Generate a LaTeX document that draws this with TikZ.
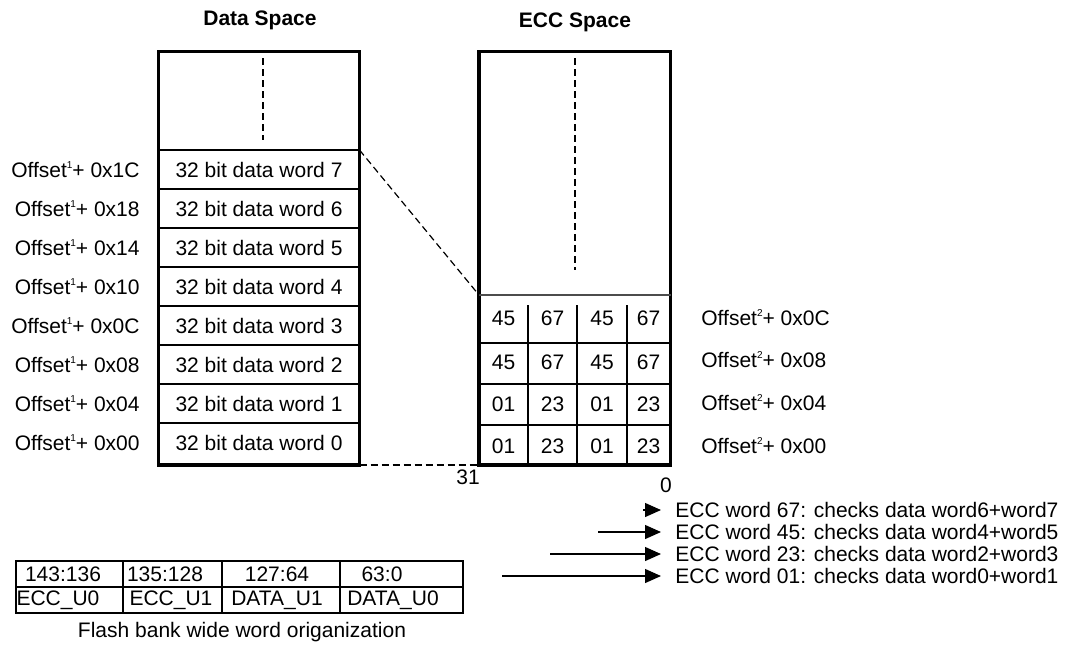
\documentclass[tikz,border=0pt]{standalone}
\usepackage{fontspec}
\setmainfont{Liberation Sans}
\usetikzlibrary{arrows.meta}

\newcommand{\diagfont}{\fontsize{10.5}{12.6}\selectfont}
\newcommand{\supmark}[1]{\raisebox{0.8ex}{\fontsize{5}{5}\selectfont #1}}

\begin{document}
\begin{tikzpicture}[x=0.5pt, y=-0.5pt, font=\diagfont,
    >={Triangle[length=8pt,width=7pt]},
    frame/.style={draw, line width=1.9pt},
    sepline/.style={draw, line width=0.6pt},
    guide/.style={draw, line width=0.6pt, dash pattern=on 3.5pt off 2pt},
    title/.style={font=\diagfont\bfseries, inner sep=0pt},
    txt/.style={inner sep=0pt}]

    \useasboundingbox (0,0) rectangle (1066,644);

    % Space titles
    \node[title] (dsTitle) at (260,20) {Data Space};
    \node[title] (eccTitle) at (575,22) {ECC Space};

    % Data space frame, rows and offset label(s)
    \draw[frame] (158.5,51.5) coordinate (dsNW) rectangle (359.5,465) coordinate (dsSE);
    \draw[guide] (263,58) -- (263,140);
    \foreach \k in {0,...,7}
        \draw[sepline] (158.5,{150+39*\k}) -- (359.5,{150+39*\k});
    \coordinate (dsRow7) at (359.5,150);
    \foreach \n/\hex [count=\k from 0] in {7/1C,6/18,5/14,4/10,3/0C,2/08,1/04,0/00} {
        \node[txt] (dw\n) at (259,{170+39*\k}) {32 bit data word \n};
        \node[txt, anchor=east] (do\n) at (140,{170+39*\k}) {Offset\supmark{1}+ 0x\hex};
    }

    % ECC space frame and grid
    \draw[frame] (479,51.5) coordinate (eccNW) rectangle (670.5,465) coordinate (eccSE);
    \draw[guide] (575,58) -- (575,270);
    \coordinate (eccGridNW) at (479,295);
    \coordinate (eccSW) at (479,465);
    \draw[line width=0.6pt, black!70] (eccGridNW) -- (670.5,295);
    \foreach \y in {343,384,425}
        \draw[line width=1pt] (479,\y) -- (670.5,\y);
    \foreach \x in {528,577,627}
        \draw[line width=1pt] (\x,305) -- (\x,465);
    \foreach \r/\y/\a/\b in {3/318/45/67, 2/362/45/67, 1/404/01/23, 0/446/01/23} {
        \node[txt] (ec\r a) at (503.5,\y) {\a};
        \node[txt] (ec\r b) at (552.5,\y) {\b};
        \node[txt] (ec\r c) at (602,\y) {\a};
        \node[txt] (ec\r d) at (648.5,\y) {\b};
    }
    \foreach \r/\y/\hex in {3/318/0C, 2/360/08, 1/403/04, 0/446/00}
        \node[txt, anchor=west] (eo\r) at (701,\y) {Offset\supmark{2}+ 0x\hex};

    % Bit positions
    \node[txt] (bit31) at (468,477) {31};
    \node[txt] (bit0) at (666,485) {0};

    % Zoom guide(s)
    \draw[guide] (dsRow7) -- (eccGridNW);
    \draw[guide] (dsSE) -- (eccSW);

    % ECC word legend
    \node[txt, anchor=west] (ew67) at (675,510) {ECC word 67: checks data word6+word7};
    \node[txt, anchor=west] (ew45) at (675,532) {ECC word 45: checks data word4+word5};
    \node[txt, anchor=west] (ew23) at (675,554) {ECC word 23: checks data word2+word3};
    \node[txt, anchor=west] (ew01) at (675,576) {ECC word 01: checks data word0+word1};
    \coordinate (s67) at (643,510);
    \coordinate (s45) at (598,532);
    \coordinate (s23) at (550,554);
    \coordinate (s01) at (502,576);
    \foreach \w in {67,45,23,01}
        \draw[->, line width=0.6pt, shorten >=7pt] (s\w) -- (ew\w.west);

    % Flash bank wide word table
    \draw[line width=1pt] (16,561) rectangle (463,613);
    \draw[line width=1pt] (16,587) -- (463,587);
    \foreach \x in {123,222,340}
        \draw[line width=1pt] (\x,561) -- (\x,613);
    \node[txt] (bitsA) at (63,574) {143:136};
    \node[txt] (bitsB) at (165,574) {135:128};
    \node[txt] (bitsC) at (277,574) {127:64};
    \node[txt] (bitsD) at (382,574) {63:0};
    \node[txt] (fldA) at (58,600) {ECC\_U0};
    \node[txt] (fldB) at (171,600) {ECC\_U1};
    \node[txt] (fldC) at (277,600) {DATA\_U1};
    \node[txt] (fldD) at (393,600) {DATA\_U0};
    \node[txt] (caption) at (242,632) {Flash bank wide word origanization};

\end{tikzpicture}
\end{document}
